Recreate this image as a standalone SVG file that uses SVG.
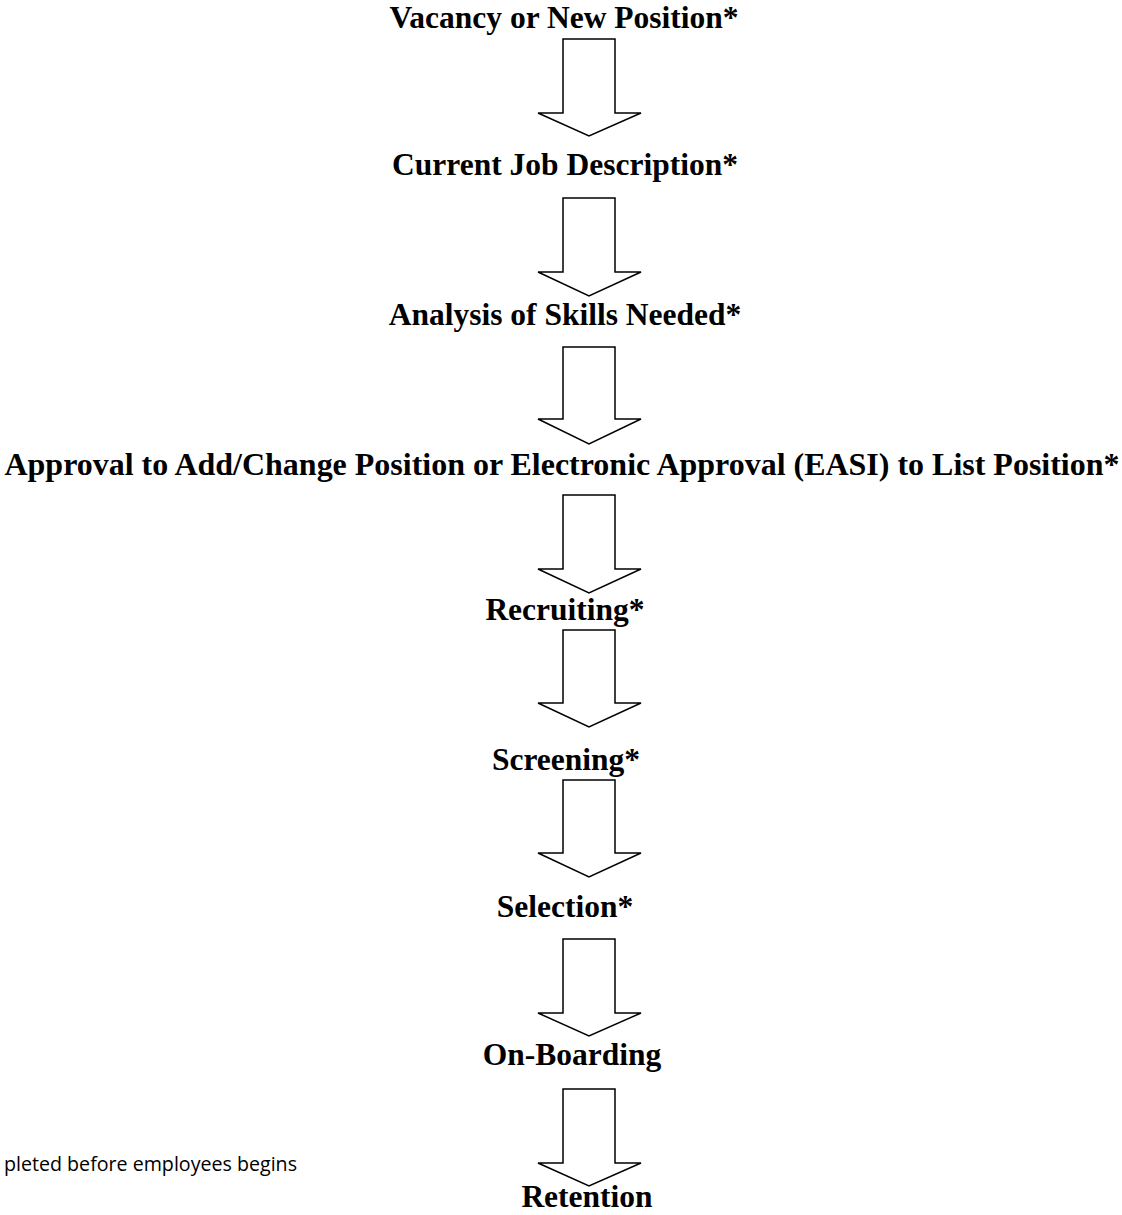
<svg xmlns="http://www.w3.org/2000/svg" width="1122" height="1215" viewBox="0 0 1122 1215">
<defs>
<style>
.t{font-family:"Liberation Serif","Times New Roman",serif;font-weight:bold;font-size:31.5px;fill:#000;text-anchor:middle}
.n{font-family:"Open Sans","Liberation Sans",sans-serif;font-size:20px;fill:#000}
.a{fill:#fff;stroke:#000;stroke-width:1.5;stroke-linejoin:miter}
</style>
</defs>
<rect width="1122" height="1215" fill="#fff"/>
<g id="n1"><text class="t" x="564" y="28">Vacancy or New Position*</text></g>
<g id="n2"><text class="t" x="565" y="175">Current Job Description*</text></g>
<g id="n3"><text class="t" x="565" y="325">Analysis of Skills Needed*</text></g>
<g id="n4"><text class="t" x="562" y="475" textLength="1115" lengthAdjust="spacingAndGlyphs">Approval to Add/Change Position or Electronic Approval (EASI) to List Position*</text></g>
<g id="n5"><text class="t" x="565" y="620">Recruiting*</text></g>
<g id="n6"><text class="t" x="566" y="770">Screening*</text></g>
<g id="n7"><text class="t" x="565" y="917">Selection*</text></g>
<g id="n8"><text class="t" x="572" y="1065">On-Boarding</text></g>
<g id="n9"><text class="t" x="587" y="1207">Retention</text></g>
<g id="note"><text class="n" x="4" y="1171" textLength="293" lengthAdjust="spacingAndGlyphs">pleted before employees begins</text></g>
<g id="connectors">
<path class="a" d="M563,39 H615 V113 H641 L589,136 L538,113 H563 Z"/>
<path class="a" d="M563,198 H615 V272 H641 L589,296 L538,272 H563 Z"/>
<path class="a" d="M563,347 H615 V419 H641 L589,444 L538,419 H563 Z"/>
<path class="a" d="M563,495 H615 V569 H641 L589,593 L538,569 H563 Z"/>
<path class="a" d="M563,630 H615 V703 H641 L589,727 L538,703 H563 Z"/>
<path class="a" d="M563,780 H615 V853 H641 L589,877 L538,853 H563 Z"/>
<path class="a" d="M563,939 H615 V1013 H641 L589,1036 L538,1013 H563 Z"/>
<path class="a" d="M563,1089 H615 V1163 H641 L589,1186 L538,1163 H563 Z"/>
</g>
</svg>
